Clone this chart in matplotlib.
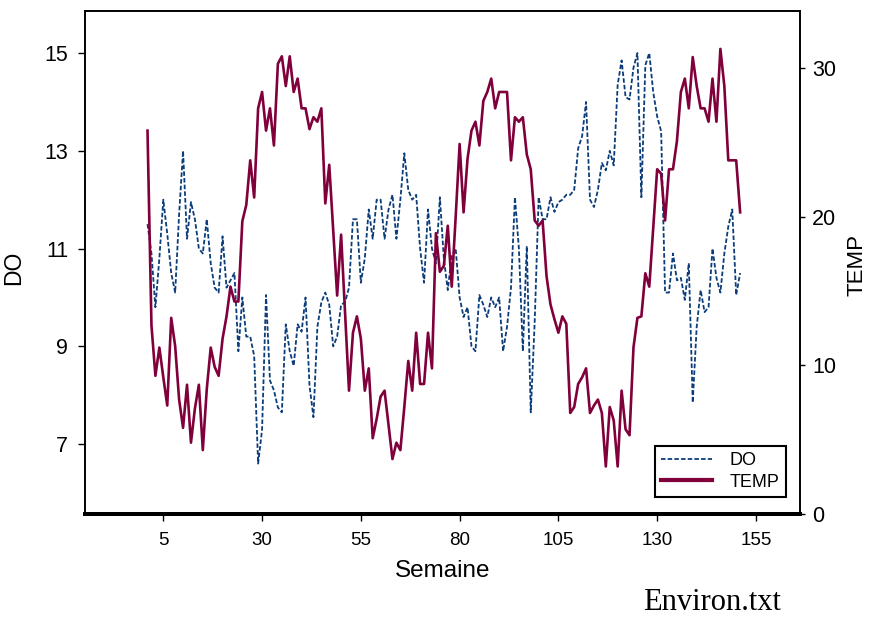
import numpy as np
import matplotlib
matplotlib.use("Agg")
import matplotlib.pyplot as plt

plt.rcParams['font.family'] = ['Liberation Sans', 'DejaVu Sans']

weeks = list(range(1, 152))

do_values = [
    11.5, 10.9, 9.8, 10.8, 12.0, 11.3, 10.5, 10.1, 11.7, 13.0,
    11.2, 11.95, 11.6, 11.0, 10.9, 11.6, 10.7, 10.2, 10.1, 11.25,
    10.2, 10.35, 10.5, 8.9, 10.0, 9.2, 9.2, 8.8, 6.6, 7.3,
    10.05, 8.3, 8.1, 7.75, 7.65, 9.45, 8.9, 8.6, 9.45, 9.3,
    10.0, 8.2, 7.55, 9.4, 9.9, 10.1, 9.85, 9.0, 9.2, 9.85,
    9.9, 10.2, 11.6, 11.6, 10.3, 10.8, 11.8, 11.2, 12.0, 12.0,
    11.2, 11.8, 12.1, 11.2, 12.0, 12.95, 12.2, 12.0, 12.1, 11.0,
    10.3, 11.8, 11.0, 10.7, 12.05, 10.8, 10.15, 10.85, 11.0, 10.0,
    9.6, 9.8, 9.0, 8.9, 10.05, 9.85, 9.6, 10.0, 9.8, 10.0,
    8.9, 9.4, 10.2, 12.05, 11.0, 8.9, 11.05, 7.65, 9.5, 12.05,
    11.6, 11.6, 12.05, 11.75, 11.95, 12.0, 12.1, 12.1, 12.2, 13.05,
    13.3, 14.0, 12.0, 11.85, 12.2, 12.75, 12.6, 13.0, 12.7, 14.35,
    14.85, 14.1, 14.05, 14.7, 15.0, 12.05, 14.75, 15.0, 14.2, 13.7,
    13.4, 10.1, 10.1, 10.9, 10.35, 10.4, 9.95, 10.7, 7.85, 9.4,
    10.15, 9.7, 9.8, 11.0, 10.4, 10.1, 10.9, 11.45, 11.8, 10.05,
    10.5,
]

temp_values = [
    25.8, 12.7, 9.3, 11.2, 9.2, 7.3, 13.2, 11.3, 7.7, 5.8,
    8.7, 4.8, 7.1, 8.7, 4.3, 8.4, 11.2, 9.9, 9.3, 11.8,
    13.3, 15.3, 14.3, 14.3, 19.7, 20.8, 23.8, 21.3, 27.3, 28.4,
    25.8, 27.3, 24.8, 30.3, 30.8, 28.8, 30.8, 28.4, 29.3, 27.3,
    27.3, 25.9, 26.7, 26.4, 27.3, 20.9, 23.5, 19.1, 14.7, 18.8,
    13.6, 8.3, 12.2, 13.3, 11.8, 8.3, 9.8, 5.1, 6.4, 7.9,
    8.3, 6.0, 3.7, 4.8, 4.3, 7.2, 10.3, 8.3, 12.2, 8.75,
    8.75, 12.2, 9.8, 18.9, 16.3, 16.7, 19.4, 15.3, 20.0, 24.9,
    20.3, 23.9, 25.8, 26.4, 24.8, 27.8, 28.4, 29.3, 27.3, 28.4,
    28.4, 28.4, 23.8, 26.7, 26.4, 26.7, 24.2, 23.2, 19.75, 19.4,
    19.75, 16.0, 14.1, 13.1, 12.2, 13.3, 12.8, 6.8, 7.2, 8.75,
    9.2, 9.8, 6.8, 7.3, 7.7, 6.8, 3.2, 7.2, 6.3, 3.2,
    8.3, 5.7, 5.3, 11.2, 13.2, 13.3, 16.2, 15.3, 19.3, 23.2,
    22.9, 19.75, 23.2, 23.2, 25.1, 28.4, 29.3, 27.3, 30.75, 28.8,
    27.3, 27.3, 26.4, 29.3, 26.4, 31.3, 28.8, 23.8, 23.8, 23.8,
    20.3,
]

x_ticks = [5, 30, 55, 80, 105, 130, 155]
do_ticks = [7, 9, 11, 13, 15]
temp_ticks = [0, 10, 20, 30]

DO_COLOR = '#0b3d7a'
TEMP_COLOR = '#80003c'

fig = plt.figure(figsize=(8.71, 6.18), dpi=100)
ax = fig.add_axes([85/871, 1-514/618, 715/871, 503/618])
ax2 = ax.twinx()

l1, = ax.plot(weeks, do_values, color=DO_COLOR, lw=1.3,
              linestyle=(0, (2.5, 1.2)), label='DO')
l2, = ax2.plot(weeks, temp_values, color=TEMP_COLOR, lw=1.9, label='TEMP')

ax.set_xlim(-14.82, 166.15)
ax.set_ylim(5.57, 15.86)
ax2.set_ylim(0, 33.85)

ax.set_xticks(x_ticks)
ax.set_yticks(do_ticks)
ax2.set_yticks(temp_ticks)

for a in (ax, ax2):
    for s in a.spines.values():
        s.set_linewidth(1.2)
        s.set_color('black')
    a.spines['bottom'].set_linewidth(2.8)

ax.tick_params(axis='x', direction='out', length=5, width=1.0, pad=8, labelsize=13.5)
ax.tick_params(axis='y', direction='out', length=5, width=1.0, pad=7, labelsize=15.5)
ax2.tick_params(axis='y', direction='out', length=3.6, width=1.0, pad=5, labelsize=15.5)

ax.set_xlabel('Semaine', fontsize=17.5)
ax.set_ylabel('DO', fontsize=16.5)
ax2.set_ylabel('TEMP', fontsize=16)
ax.xaxis.set_label_coords(0.5, -0.091)
ax.yaxis.set_label_coords(-0.0835, 0.49)
ax2.yaxis.set_label_coords(1.0645, 0.495)

leg = ax2.legend(handles=[l1, l2], loc='lower right',
                 bbox_to_anchor=(0.9804, 0.0338), borderaxespad=0,
                 fancybox=False, framealpha=1, edgecolor='black',
                 fontsize=13, handlelength=2.8, handletextpad=1.0,
                 labelspacing=0.25, borderpad=0.35)
leg.get_frame().set_linewidth(1.5)
leg.get_lines()[1].set_linewidth(3)

fig.text(643/871, 1-610/618, 'Environ.txt', fontsize=22,
         family=['Liberation Serif', 'DejaVu Serif'], ha='left', va='baseline')

fig.savefig('out.png', dpi=100)
